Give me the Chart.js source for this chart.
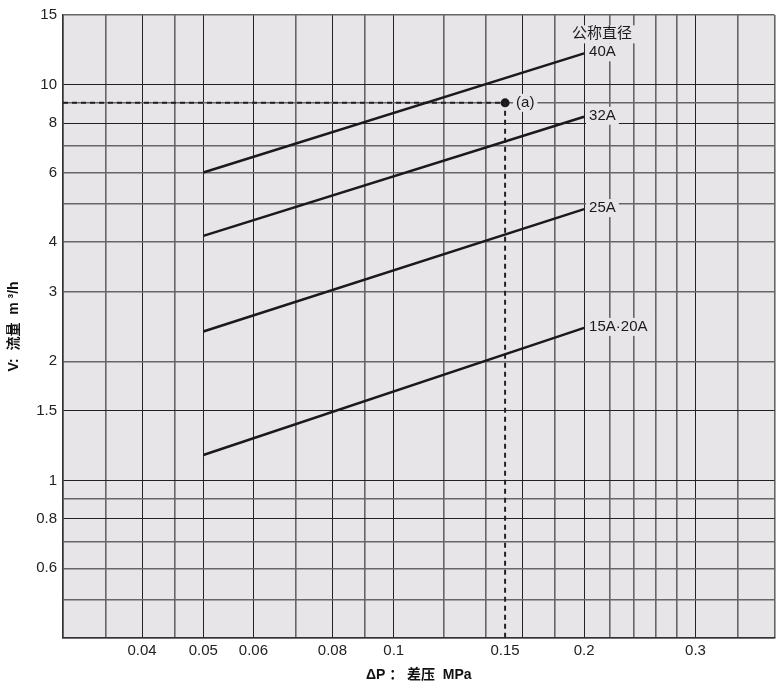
<!DOCTYPE html>
<html>
<head>
<meta charset="utf-8">
<script src="https://cdn.jsdelivr.net/npm/chart.js@4"></script>
<style>
  html, body { margin: 0; padding: 0; background: #fff; }
  #wrap { width: 779px; height: 684px; }
</style>
</head>
<body>
<div id="wrap"><canvas id="myChart" width="779" height="684"></canvas></div>
<script>
// data
let pressure = [0.05, 0.2]
let flow40A = [6.0, 12.0]
let flow32A = [4.15, 8.3]
let flow25A = [2.38, 4.85]
let flow15A20A = [1.16, 2.43]
let seriesNames = ["40A", "32A", "25A", "15A·20A"]
let pointAx = [0.15]
let pointAy = [9]

// grid + tick labels
let xGrid = [0.03, 0.035, 0.04, 0.045, 0.05, 0.06, 0.07, 0.08, 0.09, 0.1, 0.12, 0.14, 0.15, 0.16, 0.18, 0.2, 0.22, 0.24, 0.26, 0.28, 0.3, 0.35, 0.4]
let xLabels = [0.04, 0.05, 0.06, 0.08, 0.1, 0.15, 0.2, 0.3]
let yGrid = [0.4, 0.5, 0.6, 0.7, 0.8, 0.9, 1, 1.5, 2, 3, 4, 5, 6, 7, 8, 9, 10, 15]
let yLabels = [0.6, 0.8, 1, 1.5, 2, 3, 4, 6, 8, 10, 15]

let plotBg = "#e7e5e8"
let fontFam = "'Liberation Sans', Arial, 'Noto Sans CJK SC', sans-serif"
let darkX = [0.04, 0.05, 0.06, 0.08, 0.1, 0.16, 0.2, 0.3]
let darkY = [1, 0.8, 1.5, 8, 10]

let pts = (xs, ys) => xs.map((x, i) => ({ x: x, y: ys[i] }))
let flows = [flow40A, flow32A, flow25A, flow15A20A]

let datasets = flows.map((f, i) => ({
    label: seriesNames[i],
    data: pts(pressure, f),
    showLine: true,
    borderColor: "#1a1a1a",
    borderWidth: 2.5,
    pointRadius: 0,
}))

// dashed guide to point (a)
datasets.push({
    label: "guide",
    data: [{ x: xGrid[0], y: pointAy[0] }, { x: pointAx[0], y: pointAy[0] }, { x: pointAx[0], y: yGrid[0] }],
    showLine: true,
    borderColor: "#222",
    borderWidth: 2,
    borderDash: [5, 4],
    pointRadius: 0,
})
datasets.push({
    label: "(a)",
    data: pts(pointAx, pointAy),
    pointRadius: 4.5,
    pointBackgroundColor: "#1a1a1a",
    pointBorderWidth: 0,
})

let plotBackground = {
    id: "plotBackground",
    beforeDraw(chart) {
        let a = chart.chartArea, c = chart.ctx
        c.save()
        c.fillStyle = plotBg
        c.fillRect(a.left, a.top, a.right - a.left, a.bottom - a.top)
        c.restore()
    }
}

function boxText(c, txt, x, y) {
    let w = c.measureText(txt).width
    c.fillStyle = plotBg
    c.fillRect(x - 3, y - 9, w + 6, 18)
    c.fillStyle = "#1a1a1a"
    c.fillText(txt, x, y)
}

let lineLabels = {
    id: "lineLabels",
    afterDatasetsDraw(chart) {
        let c = chart.ctx
        c.save()
        c.font = "15px " + fontFam
        c.textBaseline = "middle"
        c.textAlign = "left"
        for (let i = 0; i < seriesNames.length; i++) {
            let meta = chart.getDatasetMeta(i)
            let end = meta.data[meta.data.length - 1]
            boxText(c, seriesNames[i], end.x + 5, end.y - 1)
            if (i === 0) boxText(c, "公称直径", end.x - 12, end.y - 19)
        }
        let pm = chart.getDatasetMeta(seriesNames.length + 1).data[0]
        boxText(c, "(a)", pm.x + 11, pm.y)
        c.restore()
    }
}

let ctx = document.getElementById("myChart").getContext("2d")
let myChart = new Chart(ctx, {
    type: "scatter",
    data: { datasets: datasets },
    options: {
        responsive: false,
        animation: false,
        layout: { padding: { top: 15, right: 4, left: 0, bottom: 0 } },
        plugins: { legend: { display: false }, tooltip: { enabled: false } },
        scales: {
            x: {
                type: "logarithmic",
                min: 0.03,
                max: 0.4,
                afterBuildTicks: (s) => { s.ticks = xGrid.map(v => ({ value: v })) },
                afterFit: (s) => { s.height = 46 },
                ticks: {
                    autoSkip: false,
                    maxRotation: 0,
                    padding: 4,
                    color: "#222",
                    font: { family: fontFam, size: 15 },
                    callback: (v) => xLabels.includes(v) ? String(v) : "",
                },
                grid: {
                    drawTicks: false,
                    color: (c) => c.tick && c.tick.value === 0.15 ? "rgba(0,0,0,0)" : (darkX.includes(c.tick && c.tick.value) ? "#222" : "#666"),
                    lineWidth: (c) => darkX.includes(c.tick && c.tick.value) ? 1 : 1.6,
                },
                border: { color: "#333", width: 1.5 },
                title: {
                    display: true,
                    text: "ΔP ： 差压  MPa",
                    color: "#111",
                    font: { family: fontFam, size: 14, weight: "bold" },
                    padding: { top: 0, bottom: 0 },
                },
            },
            y: {
                type: "logarithmic",
                min: 0.4,
                max: 15,
                afterBuildTicks: (s) => { s.ticks = yGrid.map(v => ({ value: v })) },
                afterFit: (s) => { s.width = 63 },
                ticks: {
                    autoSkip: false,
                    padding: 6,
                    color: "#222",
                    font: { family: fontFam, size: 15 },
                    callback: (v) => yLabels.includes(v) ? String(v) : "",
                },
                grid: {
                    drawTicks: false,
                    color: (c) => darkY.includes(c.tick && c.tick.value) ? "#222" : "#666",
                    lineWidth: (c) => darkY.includes(c.tick && c.tick.value) ? 1 : 1.6,
                },
                border: { color: "#333", width: 1.5 },
                title: {
                    display: true,
                    text: "V:  流量  m ³/h",
                    color: "#111",
                    font: { family: fontFam, size: 14, weight: "bold" },
                    padding: { top: 6, bottom: 0 },
                },
            },
        },
    },
    plugins: [plotBackground, lineLabels],
})
</script>
</body>
</html>
